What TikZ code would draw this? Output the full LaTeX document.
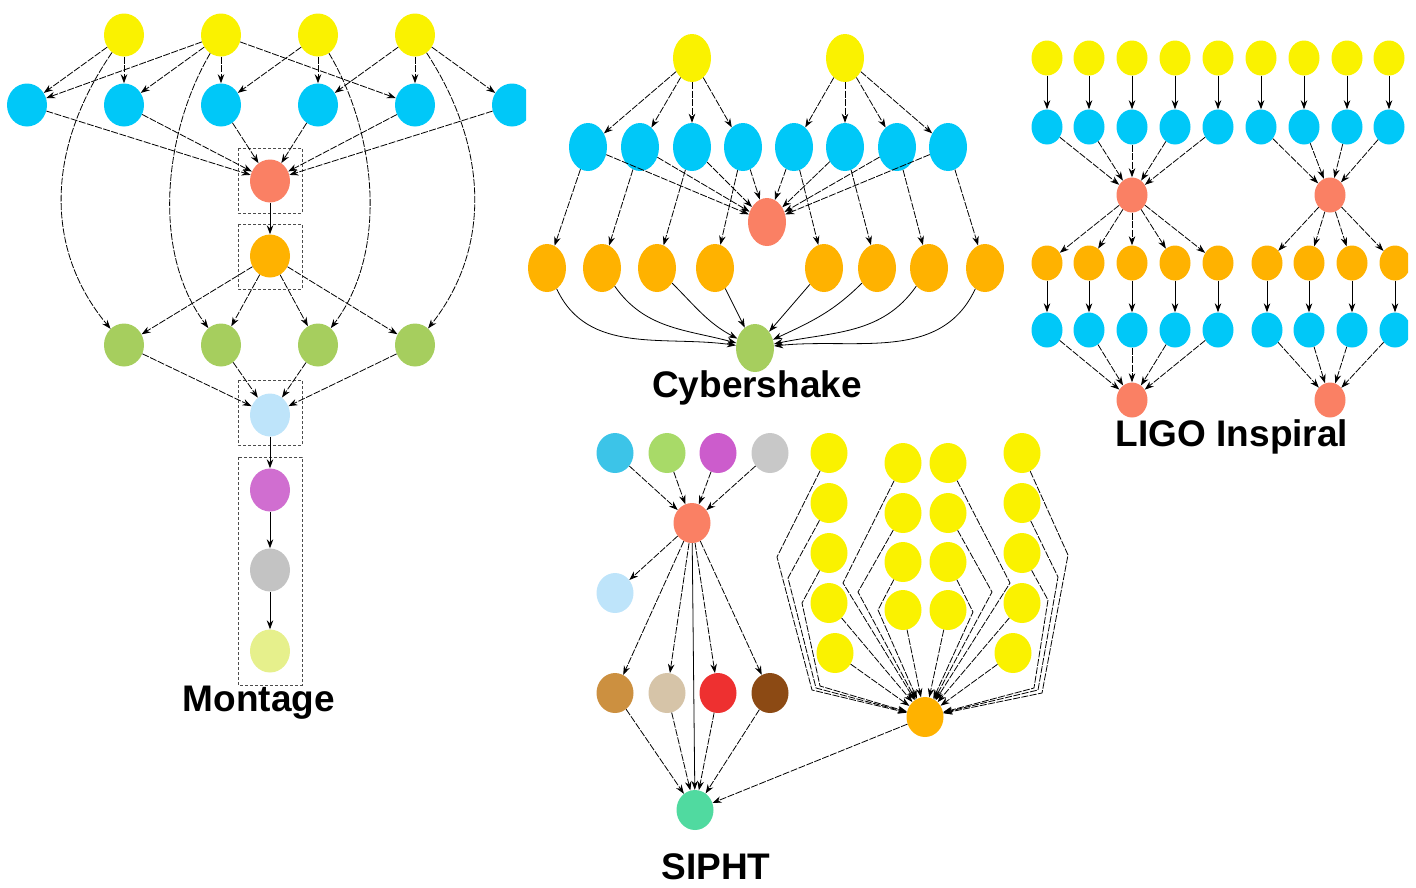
\documentclass[tikz,border=0pt]{standalone}
\usepackage{fontspec}
\setmainfont{Liberation Sans}
\usetikzlibrary{shapes.geometric,arrows.meta}
\definecolor{cyel}{RGB}{250,242,0}
\definecolor{cblue}{RGB}{0,200,248}
\definecolor{csal}{RGB}{250,128,100}
\definecolor{corg}{RGB}{255,178,0}
\definecolor{cgrn}{RGB}{166,206,94}
\definecolor{clbl}{RGB}{190,228,250}
\definecolor{cpur}{RGB}{208,110,208}
\definecolor{cgry}{RGB}{195,195,195}
\definecolor{clye}{RGB}{230,240,140}
\definecolor{scyan}{RGB}{60,196,232}
\definecolor{sgrn}{RGB}{168,218,104}
\definecolor{spur}{RGB}{204,92,204}
\definecolor{sgry}{RGB}{200,200,200}
\definecolor{stan}{RGB}{204,144,64}
\definecolor{sbei}{RGB}{214,196,168}
\definecolor{sred}{RGB}{238,48,48}
\definecolor{sbrn}{RGB}{140,74,20}
\definecolor{steal}{RGB}{80,218,160}
\tikzset{
 nd/.style={ellipse, draw=none, inner sep=0pt},
 mt/.style={nd, minimum width=40pt, minimum height=43pt},
 cy/.style={nd, minimum width=38pt, minimum height=48pt},
 lg/.style={nd, minimum width=31pt, minimum height=35pt},
 sp/.style={nd, minimum width=37pt, minimum height=40pt},
 ed/.style={-{Stealth[length=9pt,width=6.5pt]}, line width=0.8pt, dash pattern=on 7pt off 1.5pt},
 es/.style={-{Stealth[length=9pt,width=6.5pt]}, line width=0.8pt},
 grp/.style={draw=black!70, dash pattern=on 3pt off 2pt, line width=0.9pt},
 lbl/.style={font=\fontsize{37}{40}\selectfont\bfseries, inner sep=0pt, anchor=base}
}
\begin{document}
\begin{tikzpicture}[x=1pt,y=-1pt]
\useasboundingbox (0,0) rectangle (1416,887);
%% ---------------- Montage
\begin{scope}
\clip (0,0) rectangle (526,887);
\foreach \x [count=\i] in {124,221,318,415} \node[mt, fill=cyel] (my\i) at (\x,35) {};
\foreach \x [count=\i] in {27,124,221,318,415,512} \node[mt, fill=cblue] (mb\i) at (\x,105) {};
\node[mt, fill=csal] (mr) at (270,181) {};
\node[mt, fill=corg] (mo) at (270,256) {};
\foreach \x [count=\i] in {124,221,318,415} \node[mt, fill=cgrn] (mg\i) at (\x,345) {};
\node[mt, fill=clbl] (ml) at (270,415) {};
\node[mt, fill=cpur] (mp) at (270,490) {};
\node[mt, fill=cgry] (mgr) at (270,570) {};
\node[mt, fill=clye] (mly) at (270,651) {};
\draw[grp] (238,148) rectangle (302,213);
\draw[grp] (238,224) rectangle (302,289);
\draw[grp] (238,380) rectangle (302,445);
\draw[grp] (238,457) rectangle (302,685);
\draw[ed] (my1) -- (mb1);
\draw[ed] (my1) -- (mb2);
\draw[ed] (my2) -- (mb1);
\draw[ed] (my2) -- (mb2);
\draw[ed] (my2) -- (mb3);
\draw[ed] (my2) -- (mb5);
\draw[ed] (my3) -- (mb3);
\draw[ed] (my3) -- (mb4);
\draw[ed] (my4) -- (mb4);
\draw[ed] (my4) -- (mb5);
\draw[ed] (my4) -- (mb6);
\draw[ed] (my1) .. controls (45,150) and (45,250) .. (mg1);
\draw[ed] (my2) .. controls (165,130) and (150,250) .. (mg2);
\draw[ed] (my3) .. controls (375,130) and (390,250) .. (mg3);
\draw[ed] (my4) .. controls (490,150) and (490,250) .. (mg4);
\foreach \i in {1,...,6} \draw[ed] (mb\i) -- (mr);
\draw[es] (mr) -- (mo);
\foreach \i in {1,...,4} \draw[ed] (mo) -- (mg\i);
\foreach \i in {1,...,4} \draw[ed] (mg\i) -- (ml);
\draw[es] (ml) -- (mp);
\draw[es] (mp) -- (mgr);
\draw[es] (mgr) -- (mly);
\end{scope}
\node[lbl] (tm) at (259,711) {Montage};
%% ---------------- Cybershake
\node[cy, fill=cyel] (cy1) at (692,58) {};
\node[cy, fill=cyel] (cy2) at (845,58) {};
\foreach \x [count=\i] in {588,640,692,743,794,845,897,948} \node[cy, fill=cblue] (cb\i) at (\x,147) {};
\node[cy, fill=csal] (cr) at (767,222) {};
\foreach \x [count=\i] in {547,602,657,715,824,877,929,985} \node[cy, fill=corg] (co\i) at (\x,268) {};
\node[cy, fill=cgrn] (cg) at (755,348) {};
\foreach \i in {1,...,4} \draw[ed] (cy1) -- (cb\i);
\foreach \i in {5,...,8} \draw[ed] (cy2) -- (cb\i);
\foreach \i in {1,...,8} \draw[ed] (cb\i) -- (cr);
\foreach \i in {1,...,8} \draw[ed] (cb\i) -- (co\i);
\draw[es] (co1) to[out=-65,in=172] (cg);
\draw[es] (co2) to[out=-55,in=165] (cg);
\draw[es] (co3) to[out=-45,in=152] (cg);
\draw[es] (co4) -- (cg);
\draw[es] (co5) -- (cg);
\draw[es] (co6) to[out=-135,in=25] (cg);
\draw[es] (co7) to[out=-125,in=12] (cg);
\draw[es] (co8) to[out=-115,in=6] (cg);
\node[lbl] (tc) at (757,397) {Cybershake};
%% ---------------- LIGO Inspiral
\begin{scope}
\clip (1020,0) rectangle (1408,887);
\foreach \x [count=\i] in {1047,1089,1132,1175,1218,1261,1304,1347,1389} {
  \node[lg, fill=cyel] (ly\i) at (\x,58) {};
  \node[lg, fill=cblue] (lb\i) at (\x,127) {};
}
\node[lg, fill=csal] (lr1) at (1132,195) {};
\node[lg, fill=csal] (lr2) at (1330,195) {};
\foreach \x [count=\i] in {1047,1089,1132,1175,1218,1267,1309,1352,1395} {
  \node[lg, fill=corg] (lo\i) at (\x,263) {};
  \node[lg, fill=cblue] (lc\i) at (\x,330) {};
}
\node[lg, fill=csal] (lr3) at (1132,400) {};
\node[lg, fill=csal] (lr4) at (1330,400) {};
\foreach \i in {1,...,9} {
  \draw[es] (ly\i) -- (lb\i);
  \draw[es] (lo\i) -- (lc\i);
}
\foreach \i in {1,...,5} {
  \draw[ed] (lb\i) -- (lr1);
  \draw[ed] (lr1) -- (lo\i);
  \draw[ed] (lc\i) -- (lr3);
}
\foreach \i in {6,...,9} {
  \draw[ed] (lb\i) -- (lr2);
  \draw[ed] (lr2) -- (lo\i);
  \draw[ed] (lc\i) -- (lr4);
}
\end{scope}
\node[lbl] (tl) at (1232,446) {LIGO Inspiral};
%% ---------------- SIPHT
\node[sp, fill=scyan] (st1) at (615,453) {};
\node[sp, fill=sgrn] (st2) at (667,453) {};
\node[sp, fill=spur] (st3) at (718,453) {};
\node[sp, fill=sgry] (st4) at (770,453) {};
\node[sp, fill=csal] (sr) at (692,523) {};
\node[sp, fill=clbl] (slb) at (615,593) {};
\node[sp, fill=stan] (sb1) at (615,693) {};
\node[sp, fill=sbei] (sb2) at (667,693) {};
\node[sp, fill=sred] (sb3) at (718,693) {};
\node[sp, fill=sbrn] (sb4) at (770,693) {};
\node[sp, fill=steal] (ste) at (695,810) {};
\foreach \i in {1,...,4} {
  \draw[ed] (st\i) -- (sr);
  \draw[ed] (sr) -- (sb\i);
  \draw[ed] (sb\i) -- (ste);
}
\draw[ed] (sr) -- (slb);
\draw[es] (sr) -- (ste);
% right part
\foreach \y [count=\i] in {453,503,553,603} \node[sp, fill=cyel] (sya\i) at (829,\y) {};
\node[sp, fill=cyel] (sya5) at (835,653) {};
\foreach \y [count=\i] in {463,513,562,610} {
  \node[sp, fill=cyel] (syb\i) at (903,\y) {};
  \node[sp, fill=cyel] (syc\i) at (948,\y) {};
}
\foreach \y [count=\i] in {453,503,553,603} \node[sp, fill=cyel] (syd\i) at (1022,\y) {};
\node[sp, fill=cyel] (syd5) at (1013,653) {};
\node[sp, fill=corg] (so) at (925,717) {};
\draw[ed] (sya1) -- (777,557) -- (812,690) -- (so);
\draw[ed] (sya2) -- (788,578) -- (816,688) -- (so);
\draw[ed] (sya3) -- (802,603) -- (820,686) -- (so);
\draw[ed] (sya4) -- (so);
\draw[ed] (sya5) -- (so);
\draw[ed] (syb1) -- (843,583) -- (so);
\draw[ed] (syb2) -- (858,592) -- (so);
\draw[ed] (syb3) -- (878,610) -- (so);
\draw[ed] (syb4) -- (so);
\draw[ed] (syc1) -- (1010,583) -- (so);
\draw[ed] (syc2) -- (992,592) -- (so);
\draw[ed] (syc3) -- (973,612) -- (so);
\draw[ed] (syc4) -- (so);
\draw[ed] (syd1) -- (1068,555) -- (1042,693) -- (so);
\draw[ed] (syd2) -- (1058,577) -- (1038,690) -- (so);
\draw[ed] (syd3) -- (1048,600) -- (1034,688) -- (so);
\draw[ed] (syd4) -- (so);
\draw[ed] (syd5) -- (so);
\draw[ed] (so) -- (ste);
\node[lbl] (ts) at (716,879) {SIPHT};
\end{tikzpicture}
\end{document}
